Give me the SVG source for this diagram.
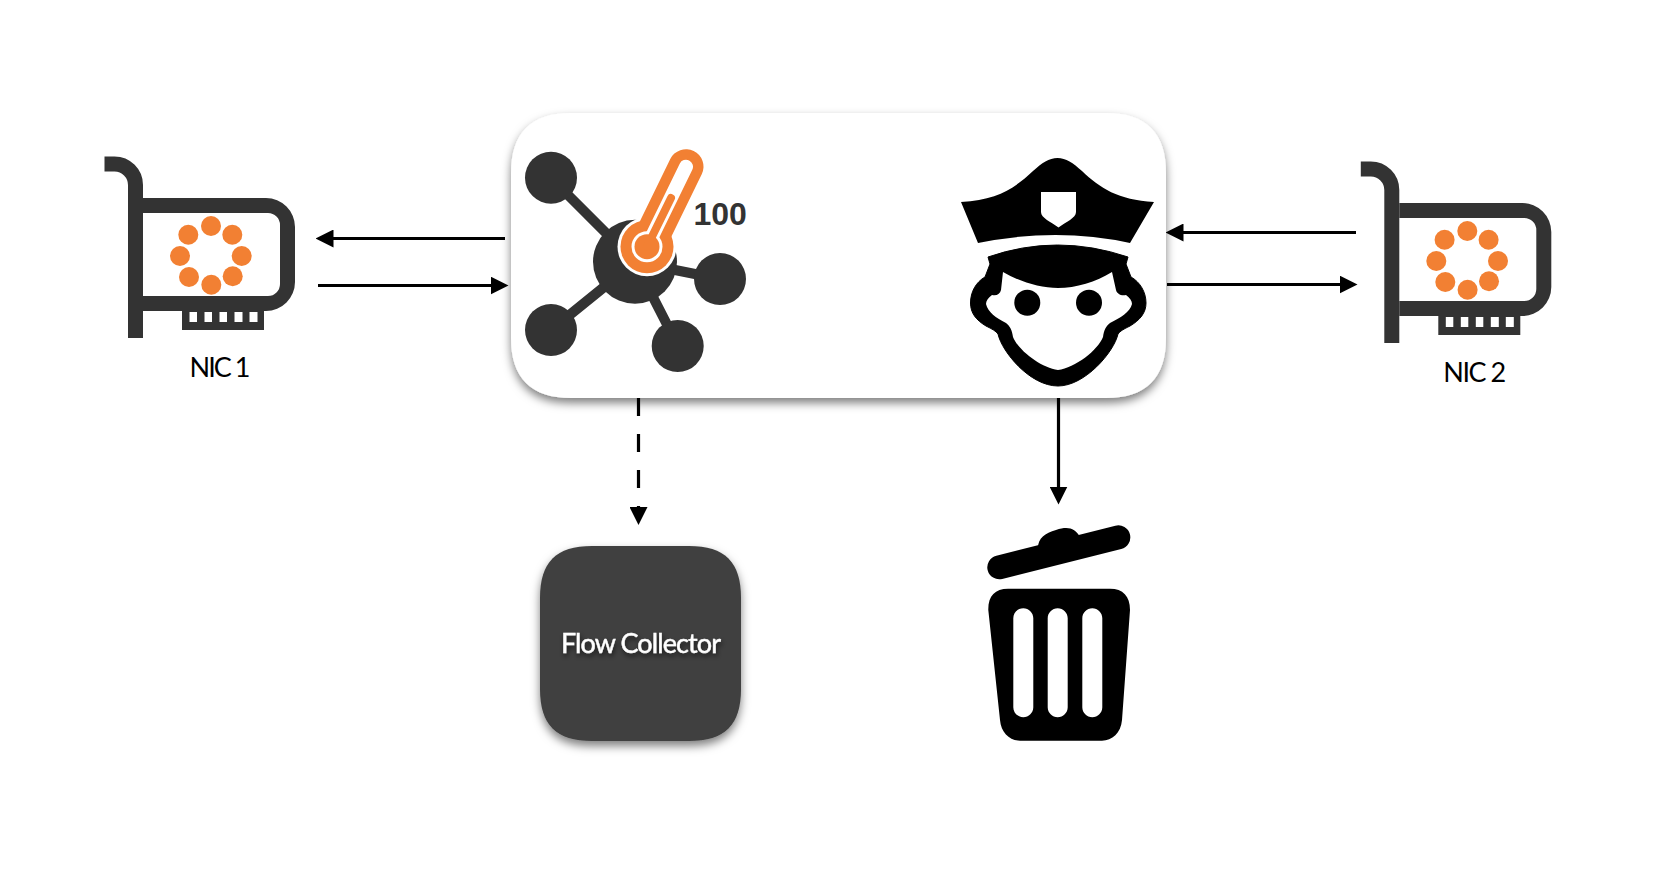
<svg xmlns="http://www.w3.org/2000/svg" xmlns:xlink="http://www.w3.org/1999/xlink" width="1660" height="874" viewBox="0 0 1660 874">
<style>
.lbl{font-family:"Lato","Liberation Sans",sans-serif;font-size:27px;fill:#000;text-anchor:middle;letter-spacing:-1.500px}
.dk{fill:#333}
.or{fill:#f28033}
.ln{stroke:#000;stroke-width:3.2;fill:none}
.net{stroke:#333;stroke-width:10;fill:none}
</style>
<defs>
<filter id="sh" x="-10%" y="-15%" width="120%" height="135%"><feDropShadow dx="0" dy="5" stdDeviation="5" flood-color="#000" flood-opacity="0.5"/></filter>
<filter id="ts" x="-10%" y="-30%" width="120%" height="170%"><feDropShadow dx="1" dy="3" stdDeviation="2.5" flood-color="#000" flood-opacity="0.6"/></filter>
<marker id="ah" markerUnits="userSpaceOnUse" markerWidth="18" markerHeight="18" refX="0.500" refY="9" orient="auto"><path d="M0 0L18 9L0 18Z" fill="#000"/></marker>
<g id="nic">
<path d="M104.500 164H114.500A21 21 0 0 1 135.500 185V338" fill="none" stroke="#333" stroke-width="15"/>
<path class="dk" d="M143 198H266A29 29 0 0 1 295 227V282A29 29 0 0 1 266 311H264V330H182V311H143V296H268A12 12 0 0 0 280 284V225A12 12 0 0 0 268 213H143Z"/>
<g fill="#fff"><rect x="189.500" y="312" width="7.500" height="10"/><rect x="204.500" y="312" width="7.500" height="10"/><rect x="219.500" y="312" width="7.500" height="10"/><rect x="234.500" y="312" width="8" height="10"/><rect x="249.500" y="312" width="8" height="10"/></g>
<g class="or"><circle cx="211" cy="226" r="10"/><circle cx="232.300" cy="234.700" r="10"/><circle cx="241.700" cy="256" r="10"/><circle cx="232.700" cy="276.300" r="10"/><circle cx="211.300" cy="284.700" r="10"/><circle cx="189" cy="277" r="10"/><circle cx="180" cy="256" r="10"/><circle cx="188.300" cy="234.700" r="10"/></g>
</g>
</defs>
<rect width="1660" height="874" fill="#fff"/>
<g id="connectors">
<line class="ln" x1="505" y1="238.500" x2="333" y2="238.500" marker-end="url(#ah)"/>
<line class="ln" x1="318" y1="285.500" x2="491" y2="285.500" marker-end="url(#ah)"/>
<line class="ln" x1="1356" y1="232.500" x2="1183" y2="232.500" marker-end="url(#ah)"/>
<line class="ln" x1="1167" y1="284.500" x2="1340" y2="284.500" marker-end="url(#ah)"/>
<line class="ln" x1="638.500" y1="398" x2="638.500" y2="507.500" stroke-dasharray="18 18" marker-end="url(#ah)"/>
<line class="ln" x1="1058.500" y1="398" x2="1058.500" y2="487" marker-end="url(#ah)"/>
</g>
<g id="nic1">
<use href="#nic" xlink:href="#nic"/>
<text class="lbl" x="219" y="377" style="letter-spacing:-2px">NIC 1</text>
</g>
<g id="nic2">
<use href="#nic" xlink:href="#nic" transform="translate(1256.300 5)"/>
<text class="lbl" x="1474" y="382">NIC 2</text>
</g>
<g id="main">
<path fill="#fff" filter="url(#sh)" d="M571 113H1106C1146 113 1166 133 1166 173V338C1166 378 1146 398 1106 398H571C531 398 511 378 511 338V173C511 133 531 113 571 113Z"/>
<g id="telemetry">
<path class="net" d="M551 178L635 262M720 279L635 262M551 330L635 262M678 346L635 262"/>
<circle class="dk" cx="551" cy="177.700" r="26"/><circle class="dk" cx="720" cy="279" r="26"/><circle class="dk" cx="551" cy="330" r="26"/><circle class="dk" cx="677.700" cy="346" r="26"/>
<circle class="dk" cx="635" cy="261.700" r="42"/>
<circle cx="647" cy="246.700" r="29.500" fill="#fff"/>
<line x1="647" y1="246.700" x2="686" y2="166.700" stroke="#f28033" stroke-width="35" stroke-linecap="round"/>
<circle class="or" cx="647" cy="246.700" r="26.500"/>
<line x1="647" y1="246.700" x2="686" y2="166.700" stroke="#fff" stroke-width="14" stroke-linecap="round"/>
<circle cx="647" cy="246.700" r="15.500" fill="#fff"/>
<circle class="or" cx="647" cy="246.700" r="12.500"/>
<path d="M647 246.700L671 198" stroke="#f28033" stroke-width="8" stroke-linecap="round" fill="none"/>
<text x="693.500" y="225" font-family="'Liberation Sans',sans-serif" font-size="32" font-weight="700" fill="#333">100</text>
</g>
<g id="police">
<path d="M1057.500 158C1066 158 1073 163 1082 171C1100 188 1118 200 1154 202L1130 243Q1057 227 978 243L961 202C997 200 1015 188 1033 171C1042 163 1049 158 1057.500 158Z"/>
<path fill="#fff" d="M1041 192H1076V212C1076 218 1066 222 1058.500 227.500C1051 222 1041 218 1041 212Z"/>
<path stroke="#000" stroke-width="1" d="M988 257Q1057 233 1128 257L1126 264L1131 277C1140 282 1146 292 1146 303C1146 313 1140 320 1130 326C1124 329 1120 331 1118 334C1114 352 1085 386 1058 386C1030 386 1002 352 998 334C996 331 992 329 986 326C976 320 970.500 313 970.500 303C970.500 292 976 282 985 277L990 264Z"/>
<path fill="#fff" d="M1003 272C1020 282 1040 288 1058 288C1076 288 1096 282 1112 272L1116 290C1117 294 1121 296 1126 295C1130 298 1132 301 1132 304C1130 312 1120 318 1110 323C1106 326 1104 330 1103 337C1098 350 1075 368 1058 370C1041 368 1018 350 1013 337C1012 330 1010 326 1006 323C996 318 988 312 986 304C986 301 988 298 992 295C997 296 1000 294 1001 290Z"/>
<circle cx="1027.300" cy="302.700" r="13"/><circle cx="1089" cy="302.700" r="13"/>
</g>
</g>
<g id="flow-collector">
<path fill="#404040" filter="url(#sh)" d="M592 546H689C725 546 741 562 741 598V689C741 725 725 741 689 741H592C556 741 540 725 540 689V598C540 562 556 546 592 546Z"/>
<text x="640.500" y="653" text-anchor="middle" font-family="Lato,'Liberation Sans',sans-serif" font-size="27" letter-spacing="-0.900" fill="#fff" stroke="#fff" stroke-width="0.400" filter="url(#ts)">Flow Collector</text>
</g>
<g id="trash">
<path d="M999.300 567.300L1118.300 537.300" stroke="#000" stroke-width="24" stroke-linecap="round" fill="none"/>
<path d="M1038 548C1038 538 1045 533 1056 530C1068 526 1075 528 1080 537Z"/>
<path fill-rule="evenodd" d="M1008 588.700H1110C1123 588.700 1130 596 1130 610L1122 720C1121 733 1112 740.700 1102 740.700H1020C1010 740.700 1001 733 1000 720L988.300 610C988 596 995 588.700 1008 588.700ZM1023.300 608.300C1017.800 608.300 1013.300 612.800 1013.300 618.300V707.300C1013.300 712.800 1017.800 717.300 1023.300 717.300C1028.800 717.300 1033.300 712.800 1033.300 707.300V618.300C1033.300 612.800 1028.800 608.300 1023.300 608.300ZM1057.700 608.300C1052.200 608.300 1047.700 612.800 1047.700 618.300V707.300C1047.700 712.800 1052.200 717.300 1057.700 717.300C1063.200 717.300 1067.700 712.800 1067.700 707.300V618.300C1067.700 612.800 1063.200 608.300 1057.700 608.300ZM1092.300 608.300C1086.800 608.300 1082.300 612.800 1082.300 618.300V707.300C1082.300 712.800 1086.800 717.300 1092.300 717.300C1097.800 717.300 1102.300 712.800 1102.300 707.300V618.300C1102.300 612.800 1097.800 608.300 1092.300 608.300Z"/>
</g>
</svg>
